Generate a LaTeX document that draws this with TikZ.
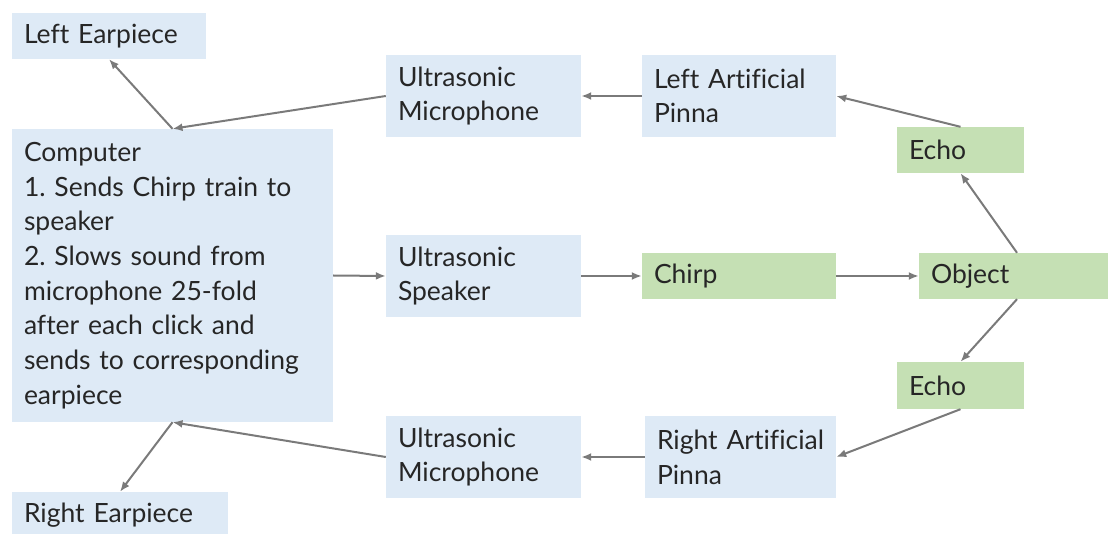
\documentclass[tikz,border=0pt]{standalone}
\usepackage{fontspec}
\setmainfont{Lato}[Ligatures=NoCommon]
\usetikzlibrary{arrows.meta}
\definecolor{bluefill}{HTML}{DEEAF6}
\definecolor{greenfill}{HTML}{C5E0B4}
\definecolor{arrgray}{HTML}{7A7A7A}
\definecolor{txt}{HTML}{262626}
\frenchspacing
\tikzset{
  box/.style={rectangle, inner xsep=12pt, inner ysep=0pt, align=left, text=txt,
    font=\fontsize{26.5}{34.7}\selectfont\frenchspacing},
  bluebox/.style={box, fill=bluefill},
  greenbox/.style={box, fill=greenfill},
  arr/.style={draw=arrgray, line width=2pt, -{Latex[length=10pt,width=8pt]}}
}
\begin{document}
\begin{tikzpicture}[x=1pt,y=-1pt]
\useasboundingbox (0,0) rectangle (1108,534);
\node[bluebox, text width=170pt, minimum height=46pt] (le) at (109,36) {Left Earpiece};
\node[bluebox, text width=297pt, minimum height=293pt] (comp) at (172.5,275.5) {Computer\\1. Sends Chirp train to\\speaker\\2. Slows sound from\\microphone 25-fold\\after each click and\\sends to corresponding\\earpiece};
\node[bluebox, text width=171pt, minimum height=82pt] (mict) at (483.5,96) {Ultrasonic\\Microphone};
\node[bluebox, text width=170pt, minimum height=82pt] (lp) at (739,96) {Left Artificial\\Pinna};
\node[greenbox, text width=103pt, minimum height=46pt] (echot) at (960.5,150) {Echo};
\node[bluebox, text width=171pt, minimum height=82pt] (spk) at (483.5,276) {Ultrasonic\\Speaker};
\node[greenbox, text width=170pt, minimum height=46pt] (chirp) at (739,276) {Chirp};
\node[greenbox, text width=172pt, minimum height=46pt] (obj) at (1017,276) {Object};
\node[greenbox, text width=103pt, minimum height=47pt] (echob) at (960.5,385.5) {Echo};
\node[bluebox, text width=167pt, minimum height=82pt] (rp) at (740.5,457) {Right Artificial\\Pinna};
\node[bluebox, text width=171pt, minimum height=82pt] (micb) at (483.5,457) {Ultrasonic\\Microphone};
\node[bluebox, text width=192pt, minimum height=46pt] (re) at (120,515) {Right Earpiece};
\draw[arr] (mict.west) -- (comp.north);
\draw[arr] (comp.north) -- (le.south);
\draw[arr] (lp.west) -- (mict.east);
\draw[arr] (echot.north) -- (lp.east);
\draw[arr] (obj.north) -- (echot.south);
\draw[arr] (comp.east) -- (spk.west);
\draw[arr] (spk.east) -- (chirp.west);
\draw[arr] (chirp.east) -- (obj.west);
\draw[arr] (obj.south) -- (echob.north);
\draw[arr] (echob.south) -- (rp.east);
\draw[arr] (rp.west) -- (micb.east);
\draw[arr] (micb.west) -- (comp.south);
\draw[arr] (comp.south) -- (re.north);
\end{tikzpicture}
\end{document}
